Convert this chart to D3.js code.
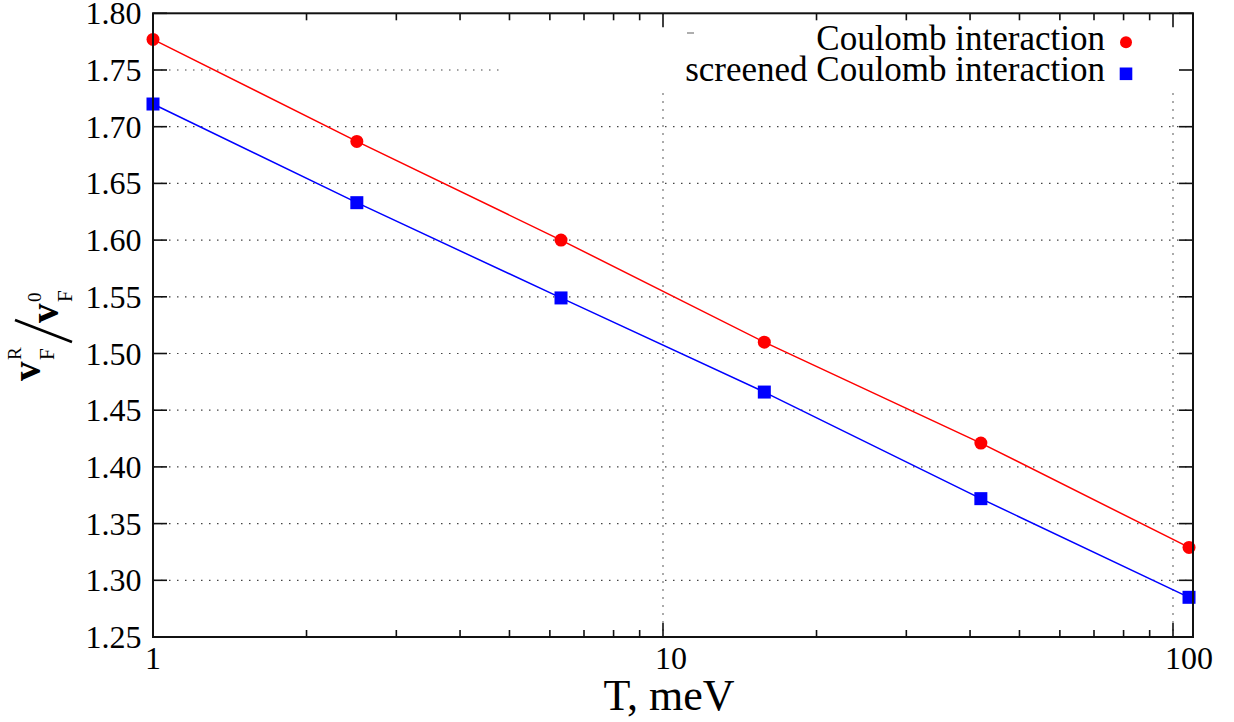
<!DOCTYPE html>
<html>
<meta charset="utf-8">
<title>Fermi velocity renormalisation</title>
<style>
    body { margin: 0; background: #fff; }
    svg text { font-family: "Liberation Serif", "DejaVu Serif", serif; fill: #000; }
    .grid line { stroke: #444; stroke-width: 1.2px; stroke-dasharray: 1.5, 6.5; }
    .frame { fill: none; stroke: #111; stroke-width: 2px; }
    .tick { stroke: #111; stroke-width: 1.6px; }
    .line { fill: none; stroke-width: 1.5px; }
</style>
<script src="https://cdn.jsdelivr.net/npm/d3@7/dist/d3.min.js"></script>

<script>
    // data
    let tempValues = [1, 2.51, 6.31, 15.8, 42, 107.5]          // T, meV
    let coulombValues = [1.777, 1.687, 1.600, 1.510, 1.421, 1.329]
    let screenedValues = [1.720, 1.633, 1.549, 1.466, 1.372, 1.285]
    let seriesNames = ["Coulomb interaction", "screened Coulomb interaction"]
    let xMajorTicks = [1, 10, 100]
    let yTicks = [1.25, 1.30, 1.35, 1.40, 1.45, 1.50, 1.55, 1.60, 1.65, 1.70, 1.75, 1.80]

    function draw() {
        let W = 1234, H = 722
        let left = 153, right = 1193, top = 13.3, bottom = 637

        let svg = d3.select("body").append("svg")
            .attr("width", W).attr("height", H)
            .attr("font-family", "Liberation Serif, DejaVu Serif, serif")

        let x = d3.scaleLog().domain([1, Math.pow(10, (right - left) / 510)]).range([left, right])
        let y = d3.scaleLinear().domain([1.25, 1.80]).range([bottom, top])

        // minor ticks for the log axis: 2..9 in each decade
        let xMinor = []
        for (let d = 1; d <= 10; d *= 10)
            for (let k = 2; k <= 9; k++) xMinor.push(k * d)

        // grid
        let grid = svg.append("g").attr("class", "grid")
        grid.selectAll(".gy").data(yTicks.filter(v => v > 1.26 && v < 1.79))
            .enter().append("line")
            .attr("x1", left).attr("x2", right)
            .attr("y1", d => y(d)).attr("y2", d => y(d))
        grid.selectAll(".gx").data(xMajorTicks.filter(v => v > 1))
            .enter().append("line")
            .attr("x1", d => x(d)).attr("x2", d => x(d))
            .attr("y1", top).attr("y2", bottom)

        // legend box hides part of the grid
        svg.append("rect")
            .attr("x", 503).attr("y", top + 1)
            .attr("width", right - 503 - 1).attr("height", 91 - top)
            .attr("fill", "#fff")
        svg.append("line")
            .attr("x1", 687).attr("x2", 694).attr("y1", 33).attr("y2", 33)
            .attr("stroke", "#777").attr("stroke-width", 1.2)

        // ticks (inward, on all four sides)
        let ticks = svg.append("g")
        yTicks.forEach(v => {
            ticks.append("line").attr("class", "tick")
                .attr("x1", left).attr("x2", left + 14).attr("y1", y(v)).attr("y2", y(v))
            ticks.append("line").attr("class", "tick")
                .attr("x1", right).attr("x2", right - 14).attr("y1", y(v)).attr("y2", y(v))
        })
        xMajorTicks.concat(xMinor).forEach(v => {
            let len = xMajorTicks.includes(v) ? 14 : 7
            ticks.append("line").attr("class", "tick")
                .attr("x1", x(v)).attr("x2", x(v)).attr("y1", bottom).attr("y2", bottom - len)
            ticks.append("line").attr("class", "tick")
                .attr("x1", x(v)).attr("x2", x(v)).attr("y1", top).attr("y2", top + len)
        })

        // tick labels
        svg.append("g").selectAll("text").data(yTicks)
            .enter().append("text")
            .attr("x", 141.5).attr("y", d => y(d) + 11)
            .attr("text-anchor", "end")
            .style("font-size", "32px")
            .text(d => d.toFixed(2))
        svg.append("g").selectAll("text").data(xMajorTicks)
            .enter().append("text")
            .attr("x", d => x(d) - 8).attr("y", 669)
            .attr("text-anchor", "start")
            .style("font-size", "32px")
            .text(d => d)

        // axis titles
        svg.append("text")
            .attr("x", 669).attr("y", 710)
            .attr("text-anchor", "middle")
            .style("font-size", "44px")
            .text("T, meV")

        let yl = svg.append("g").attr("transform", "translate(40,332) rotate(-90)")
        yl.append("text").attr("x", -49).attr("y", 0)
            .style("font-size", "39px").style("font-weight", "bold").text("v")
        yl.append("text").attr("x", -28).attr("y", -19)
            .style("font-size", "19px").text("R")
        yl.append("text").attr("x", -28).attr("y", 14)
            .style("font-size", "21px").text("F")
        yl.append("line")
            .attr("x1", -10).attr("y1", 32).attr("x2", 12).attr("y2", -25)
            .attr("stroke", "#000").attr("stroke-width", 2.6)
        yl.append("text").attr("x", 9).attr("y", 18)
            .style("font-size", "39px").style("font-weight", "bold").text("v")
        yl.append("text").attr("x", 30).attr("y", 1)
            .style("font-size", "19px").text("0")
        yl.append("text").attr("x", 30).attr("y", 32)
            .style("font-size", "21px").text("F")

        // series
        let series = [
            { name: seriesNames[0], values: coulombValues, color: "#ff0000", shape: "circle" },
            { name: seriesNames[1], values: screenedValues, color: "#0000ff", shape: "square" },
        ]
        let line = d3.line()
            .x((d, i) => x(tempValues[i]))
            .y(d => y(d))

        series.forEach((s, k) => {
            svg.append("path")
                .datum(s.values)
                .attr("class", "line")
                .attr("stroke", s.color)
                .attr("d", line)
            let g = svg.append("g")
            if (s.shape == "circle") {
                g.selectAll("circle").data(s.values)
                    .enter().append("circle")
                    .attr("cx", (d, i) => x(tempValues[i]))
                    .attr("cy", d => y(d))
                    .attr("r", 6.5)
                    .attr("fill", s.color)
            } else {
                g.selectAll("rect").data(s.values)
                    .enter().append("rect")
                    .attr("x", (d, i) => x(tempValues[i]) - 6.5)
                    .attr("y", d => y(d) - 6.5)
                    .attr("width", 13).attr("height", 13)
                    .attr("fill", s.color)
            }

            // legend entry
            let ly = 42.3 + k * 31.5
            svg.append("text")
                .attr("x", 1105).attr("y", ly + 7.5)
                .attr("text-anchor", "end")
                .style("font-size", "35px")
                .text(s.name)
            if (s.shape == "circle")
                svg.append("circle").attr("cx", 1126).attr("cy", ly).attr("r", 6).attr("fill", s.color)
            else
                svg.append("rect").attr("x", 1126 - 6.3).attr("y", ly - 6.3)
                    .attr("width", 12.6).attr("height", 12.6).attr("fill", s.color)
        })

        // frame on top
        svg.append("rect").attr("class", "frame")
            .attr("x", left).attr("y", top)
            .attr("width", right - left).attr("height", bottom - top)
    }
</script>

<body onload="draw()">
</body>

</html>
